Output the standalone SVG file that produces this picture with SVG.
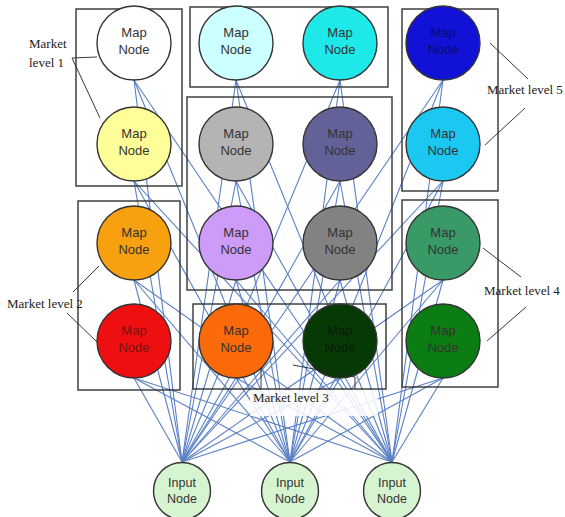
<svg xmlns="http://www.w3.org/2000/svg" width="565" height="517" viewBox="0 0 565 517">
<style>
.bg{fill:#ffffff}
.conn line{stroke:#5a80c4;stroke-width:1.1}
.box{fill:none;stroke:#333333;stroke-width:1.4}
.node{stroke:#333333;stroke-width:1.4}
.t{font-family:"Liberation Sans",Arial,sans-serif;font-size:13px;fill:#333333;text-anchor:middle}
.ti{font-family:"Liberation Sans",Arial,sans-serif;font-size:12.5px;fill:#333333;text-anchor:middle}
.lbl{font-family:"Liberation Serif","Times New Roman",serif;font-size:13px;fill:#222222}
.ptr{stroke:#222222;stroke-width:0.9;fill:none}
</style>
<rect class="bg" x="0" y="0" width="565" height="517"/>
<g id="connectors" class="conn">
<line x1="182" y1="462" x2="134" y2="80"/><line x1="182" y1="462" x2="236" y2="80"/><line x1="182" y1="462" x2="340" y2="80"/><line x1="182" y1="462" x2="443" y2="80"/>
<line x1="182" y1="462" x2="134" y2="181"/><line x1="182" y1="462" x2="236" y2="181"/><line x1="182" y1="462" x2="340" y2="181"/><line x1="182" y1="462" x2="443" y2="181"/>
<line x1="182" y1="462" x2="134" y2="280"/><line x1="182" y1="462" x2="236" y2="280"/><line x1="182" y1="462" x2="340" y2="280"/><line x1="182" y1="462" x2="443" y2="280"/>
<line x1="182" y1="462" x2="134" y2="378"/><line x1="182" y1="462" x2="236" y2="378"/><line x1="182" y1="462" x2="340" y2="378"/><line x1="182" y1="462" x2="443" y2="378"/>
<line x1="290" y1="462" x2="134" y2="80"/><line x1="290" y1="462" x2="236" y2="80"/><line x1="290" y1="462" x2="340" y2="80"/><line x1="290" y1="462" x2="443" y2="80"/>
<line x1="290" y1="462" x2="134" y2="181"/><line x1="290" y1="462" x2="236" y2="181"/><line x1="290" y1="462" x2="340" y2="181"/><line x1="290" y1="462" x2="443" y2="181"/>
<line x1="290" y1="462" x2="134" y2="280"/><line x1="290" y1="462" x2="236" y2="280"/><line x1="290" y1="462" x2="340" y2="280"/><line x1="290" y1="462" x2="443" y2="280"/>
<line x1="290" y1="462" x2="134" y2="378"/><line x1="290" y1="462" x2="236" y2="378"/><line x1="290" y1="462" x2="340" y2="378"/><line x1="290" y1="462" x2="443" y2="378"/>
<line x1="392" y1="462" x2="134" y2="80"/><line x1="392" y1="462" x2="236" y2="80"/><line x1="392" y1="462" x2="340" y2="80"/><line x1="392" y1="462" x2="443" y2="80"/>
<line x1="392" y1="462" x2="134" y2="181"/><line x1="392" y1="462" x2="236" y2="181"/><line x1="392" y1="462" x2="340" y2="181"/><line x1="392" y1="462" x2="443" y2="181"/>
<line x1="392" y1="462" x2="134" y2="280"/><line x1="392" y1="462" x2="236" y2="280"/><line x1="392" y1="462" x2="340" y2="280"/><line x1="392" y1="462" x2="443" y2="280"/>
<line x1="392" y1="462" x2="134" y2="378"/><line x1="392" y1="462" x2="236" y2="378"/><line x1="392" y1="462" x2="340" y2="378"/><line x1="392" y1="462" x2="443" y2="378"/>
</g>
<g id="boxes">
<rect class="box" x="76" y="9" width="106" height="177"/>
<rect class="box" x="190" y="7" width="198" height="80"/>
<rect class="box" x="187" y="97" width="205" height="193"/>
<rect class="box" x="402" y="9" width="96" height="182"/>
<rect class="box" x="78" y="201" width="102" height="189"/>
<rect class="box" x="193" y="304" width="193" height="85"/>
<rect class="box" x="402" y="200" width="96" height="187"/>
</g>
<g id="n1"><circle class="node" cx="134" cy="43" r="37" fill="#ffffff"/><text class="t" x="134" y="37">Map</text><text class="t" x="134" y="54">Node</text></g>
<g id="n2"><circle class="node" cx="236" cy="43" r="37" fill="#ccffff"/><text class="t" x="236" y="37">Map</text><text class="t" x="236" y="54">Node</text></g>
<g id="n3"><circle class="node" cx="340" cy="43" r="37" fill="#1ee8e8"/><text class="t" x="340" y="37">Map</text><text class="t" x="340" y="54">Node</text></g>
<g id="n4"><circle class="node" cx="443" cy="43" r="37" fill="#1212d6"/><text class="t" x="443" y="37" style="fill:#0a0a70">Map</text><text class="t" x="443" y="54" style="fill:#0a0a70">Node</text></g>
<g id="n5"><circle class="node" cx="134" cy="144" r="37" fill="#ffff99"/><text class="t" x="134" y="138">Map</text><text class="t" x="134" y="155">Node</text></g>
<g id="n6"><circle class="node" cx="236" cy="144" r="37" fill="#b4b4b4"/><text class="t" x="236" y="138">Map</text><text class="t" x="236" y="155">Node</text></g>
<g id="n7"><circle class="node" cx="340" cy="144" r="37" fill="#626299"/><text class="t" x="340" y="138">Map</text><text class="t" x="340" y="155">Node</text></g>
<g id="n8"><circle class="node" cx="443" cy="144" r="37" fill="#1ac8f2"/><text class="t" x="443" y="138">Map</text><text class="t" x="443" y="155">Node</text></g>
<g id="n9"><circle class="node" cx="134" cy="243" r="37" fill="#f7a010"/><text class="t" x="134" y="237">Map</text><text class="t" x="134" y="254">Node</text></g>
<g id="n10"><circle class="node" cx="236" cy="243" r="37" fill="#cc9cf8"/><text class="t" x="236" y="237">Map</text><text class="t" x="236" y="254">Node</text></g>
<g id="n11"><circle class="node" cx="340" cy="243" r="37" fill="#828282"/><text class="t" x="340" y="237">Map</text><text class="t" x="340" y="254">Node</text></g>
<g id="n12"><circle class="node" cx="443" cy="243" r="37" fill="#399a68"/><text class="t" x="443" y="237">Map</text><text class="t" x="443" y="254">Node</text></g>
<g id="n13"><circle class="node" cx="134" cy="341" r="37" fill="#ee1010"/><text class="t" x="134" y="335" style="fill:#7a1010">Map</text><text class="t" x="134" y="352" style="fill:#7a1010">Node</text></g>
<g id="n14"><circle class="node" cx="236" cy="341" r="37" fill="#fb6a0a"/><text class="t" x="236" y="335">Map</text><text class="t" x="236" y="352">Node</text></g>
<g id="n15"><circle class="node" cx="340" cy="341" r="37" fill="#053a05"/><text class="t" x="340" y="335" style="fill:#0a1a0a">Map</text><text class="t" x="340" y="352" style="fill:#0a1a0a">Node</text></g>
<g id="n16"><circle class="node" cx="443" cy="341" r="37" fill="#0b7d12"/><text class="t" x="443" y="335">Map</text><text class="t" x="443" y="352">Node</text></g>
<g id="i1"><circle class="node" cx="182" cy="491" r="28.5" fill="#d5f4cf"/><text class="ti" x="182" y="487">Input</text><text class="ti" x="182" y="503">Node</text></g>
<g id="i2"><circle class="node" cx="290" cy="491" r="28.5" fill="#d5f4cf"/><text class="ti" x="290" y="487">Input</text><text class="ti" x="290" y="503">Node</text></g>
<g id="i3"><circle class="node" cx="392" cy="491" r="28.5" fill="#d5f4cf"/><text class="ti" x="392" y="487">Input</text><text class="ti" x="392" y="503">Node</text></g>
<g id="labels">
<text class="lbl" x="29" y="48">Market</text>
<text class="lbl" x="29" y="67">level 1</text>
<polyline class="ptr" points="97,57 72,58 100,118"/>
<text class="lbl" x="7" y="308">Market level 2</text>
<line class="ptr" x1="73" y1="292" x2="99" y2="266"/>
<line class="ptr" x1="67" y1="313" x2="97" y2="342"/>
<text class="lbl" x="487" y="94">Market level 5</text>
<line class="ptr" x1="490" y1="43" x2="528" y2="79"/>
<line class="ptr" x1="485" y1="145" x2="525" y2="108"/>
<text class="lbl" x="484" y="295">Market level 4</text>
<line class="ptr" x1="483" y1="248" x2="521" y2="277"/>
<line class="ptr" x1="487" y1="341" x2="526" y2="307"/>
<rect x="250" y="390" width="128" height="26" fill="#ffffff" fill-opacity="0.85"/>
<text class="lbl" x="253" y="402">Market level 3</text>
<line class="ptr" x1="261" y1="368" x2="261" y2="389"/>
<polyline class="ptr" points="293,365 355,377 355,389"/>
</g>
</svg>
